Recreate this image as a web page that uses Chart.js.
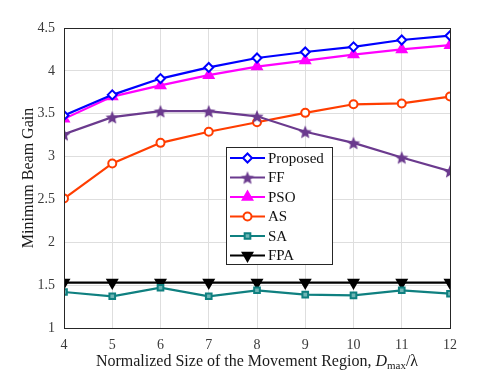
<!DOCTYPE html>
<html>
<head>
<meta charset="utf-8">
<script src="https://cdn.jsdelivr.net/npm/chart.js@4"></script>
<style>
  html, body { margin: 0; padding: 0; background: #fff; }
  #wrap { width: 497px; height: 373px; }
</style>
</head>
<body>
<div id="wrap"><canvas id="gainChart" width="497" height="373"></canvas></div>
<script>
// x values: normalized movement region size D_max / lambda
const sizes = [4, 5, 6, 7, 8, 9, 10, 11, 12];

// minimum beam gain per scheme
const proposed = [3.48, 3.72, 3.91, 4.04, 4.15, 4.22, 4.28, 4.36, 4.41];
const ff       = [3.26, 3.46, 3.53, 3.53, 3.47, 3.29, 3.16, 2.99, 2.83];
const pso      = [3.44, 3.70, 3.83, 3.95, 4.05, 4.12, 4.19, 4.25, 4.30];
const as       = [2.51, 2.92, 3.16, 3.29, 3.40, 3.51, 3.61, 3.62, 3.70];
const sa       = [1.42, 1.37, 1.47, 1.37, 1.44, 1.39, 1.38, 1.44, 1.40];
const fpa      = [1.53, 1.53, 1.53, 1.53, 1.53, 1.53, 1.53, 1.53, 1.53];

const yTicks = [1, 1.5, 2, 2.5, 3, 3.5, 4, 4.5];

const serif = '"Liberation Serif", "Times New Roman", serif';

// filled five-point star used as the FF marker
function makeStar(color, r) {
    const c = document.createElement('canvas');
    const s = Math.ceil(r * 2 + 2);
    c.width = s; c.height = s;
    const g = c.getContext('2d');
    g.fillStyle = color;
    g.beginPath();
    for (let i = 0; i < 10; i++) {
        const rr = i % 2 === 0 ? r : r * 0.45;
        const a = -Math.PI / 2 + i * Math.PI / 5;
        const px = s / 2 + rr * Math.cos(a);
        const py = s / 2 + 0.8 + rr * Math.sin(a);
        if (i === 0) g.moveTo(px, py); else g.lineTo(px, py);
    }
    g.closePath();
    g.fill();
    return c;
}

function series(label, data, color, style, extra) {
    return Object.assign({
        label: label,
        data: data,
        borderColor: color,
        backgroundColor: color,
        borderWidth: 2.2,
        pointStyle: style,
        pointRadius: 4,
        pointBorderWidth: 2,
        pointBorderColor: color,
        pointBackgroundColor: '#fff',
        tension: 0
    }, extra || {});
}

const purple = '#6b3a8e';

const datasets = [
    series('Proposed', proposed, '#0000ff', 'rectRot', { pointRadius: 4.5 }),
    series('FF', ff, purple, makeStar(purple, 7), { pointRadius: 7 }),
    series('PSO', pso, '#ff00ff', 'triangle', { pointRadius: 5.5, pointBackgroundColor: '#ff00ff' }),
    series('AS', as, '#ff3d00', 'circle', { pointRadius: 4 }),
    series('SA', sa, '#0f8080', 'rect', { pointRadius: 4, pointBackgroundColor: '#6fb5b5' }),
    series('FPA', fpa, '#000000', 'triangle', { pointRadius: 5.5, pointRotation: 180, pointBackgroundColor: '#000' })
];

// box around the plot, legend inside, and x title with subscript
const decorations = {
    id: 'decorations',
    afterDatasetsDraw(chart) {
        const ctx = chart.ctx;
        const a = chart.chartArea;
        ctx.save();
        ctx.strokeStyle = '#262626';
        ctx.lineWidth = 1;
        ctx.strokeRect(Math.round(a.left) + 0.5, Math.round(a.top) + 0.5,
            Math.round(a.right - a.left), Math.round(a.bottom - a.top));

        // legend box
        const lx = a.left + 162, ly = a.top + 119, lw = 106, lh = 117;
        ctx.fillStyle = '#fff';
        ctx.fillRect(lx, ly, lw, lh);
        ctx.strokeStyle = '#262626';
        ctx.strokeRect(lx + 0.5, ly + 0.5, lw, lh);
        ctx.font = '15px ' + serif;
        ctx.textBaseline = 'middle';
        chart.data.datasets.forEach((ds, i) => {
            const y = ly + 11 + i * 19.5;
            ctx.strokeStyle = ds.borderColor;
            ctx.lineWidth = ds.borderWidth;
            ctx.beginPath();
            ctx.moveTo(lx + 4, y);
            ctx.lineTo(lx + 39, y);
            ctx.stroke();
            ctx.fillStyle = ds.pointBackgroundColor;
            ctx.strokeStyle = ds.pointBorderColor;
            ctx.lineWidth = ds.pointBorderWidth;
            Chart.helpers.drawPoint(ctx, {
                pointStyle: ds.pointStyle,
                radius: ds.pointRadius,
                rotation: ds.pointRotation || 0,
                borderWidth: ds.pointBorderWidth
            }, lx + 21.5, y);
            ctx.fillStyle = '#111';
            ctx.fillText(ds.label, lx + 42, y + 1);
        });

        // x axis title: Normalized Size of the Movement Region, D_max/λ
        const parts = [
            { t: 'Normalized Size of the Movement Region, ', f: '16px ' + serif, dy: 0 },
            { t: 'D', f: 'italic 16px ' + serif, dy: 0 },
            { t: 'max', f: '11px ' + serif, dy: 3 },
            { t: '/\u03bb', f: '16px ' + serif, dy: 0 }
        ];
        let total = 0;
        parts.forEach(p => { ctx.font = p.f; p.w = ctx.measureText(p.t).width; total += p.w; });
        let x = (a.left + a.right) / 2 - total / 2;
        const by = a.bottom + 38;
        ctx.fillStyle = '#1a1a1a';
        ctx.textBaseline = 'alphabetic';
        parts.forEach(p => {
            ctx.font = p.f;
            ctx.fillText(p.t, x, by + p.dy);
            x += p.w;
        });
        ctx.restore();
    }
};

new Chart(document.getElementById('gainChart'), {
    type: 'line',
    data: { labels: sizes, datasets: datasets },
    options: {
        responsive: false,
        animation: false,
        layout: { padding: { top: 28, right: 47, left: 0, bottom: 0 } },
        plugins: {
            legend: { display: false },
            tooltip: { enabled: false }
        },
        scales: {
            x: {
                type: 'linear',
                min: 4,
                max: 12,
                afterBuildTicks(scale) {
                    scale.ticks = sizes.map(v => ({ value: v }));
                },
                afterFit(scale) { scale.height = 45; },
                grid: { color: '#dedede', drawTicks: false },
                border: { color: '#262626' },
                ticks: {
                    color: '#3a3a3a',
                    padding: 9,
                    font: { family: serif, size: 14 }
                }
            },
            y: {
                min: 1,
                max: 4.5,
                afterBuildTicks(scale) {
                    scale.ticks = yTicks.map(v => ({ value: v }));
                },
                afterFit(scale) { scale.width = 64; },
                grid: { color: '#dedede', drawTicks: false },
                border: { color: '#262626' },
                title: {
                    display: true,
                    text: 'Minimum Beam Gain',
                    color: '#1a1a1a',
                    padding: { top: 19, bottom: 0 },
                    font: { family: serif, size: 16 }
                },
                ticks: {
                    color: '#3a3a3a',
                    padding: 9,
                    font: { family: serif, size: 14 },
                    callback: v => String(v)
                }
            }
        }
    },
    plugins: [decorations]
});
</script>
</body>
</html>
